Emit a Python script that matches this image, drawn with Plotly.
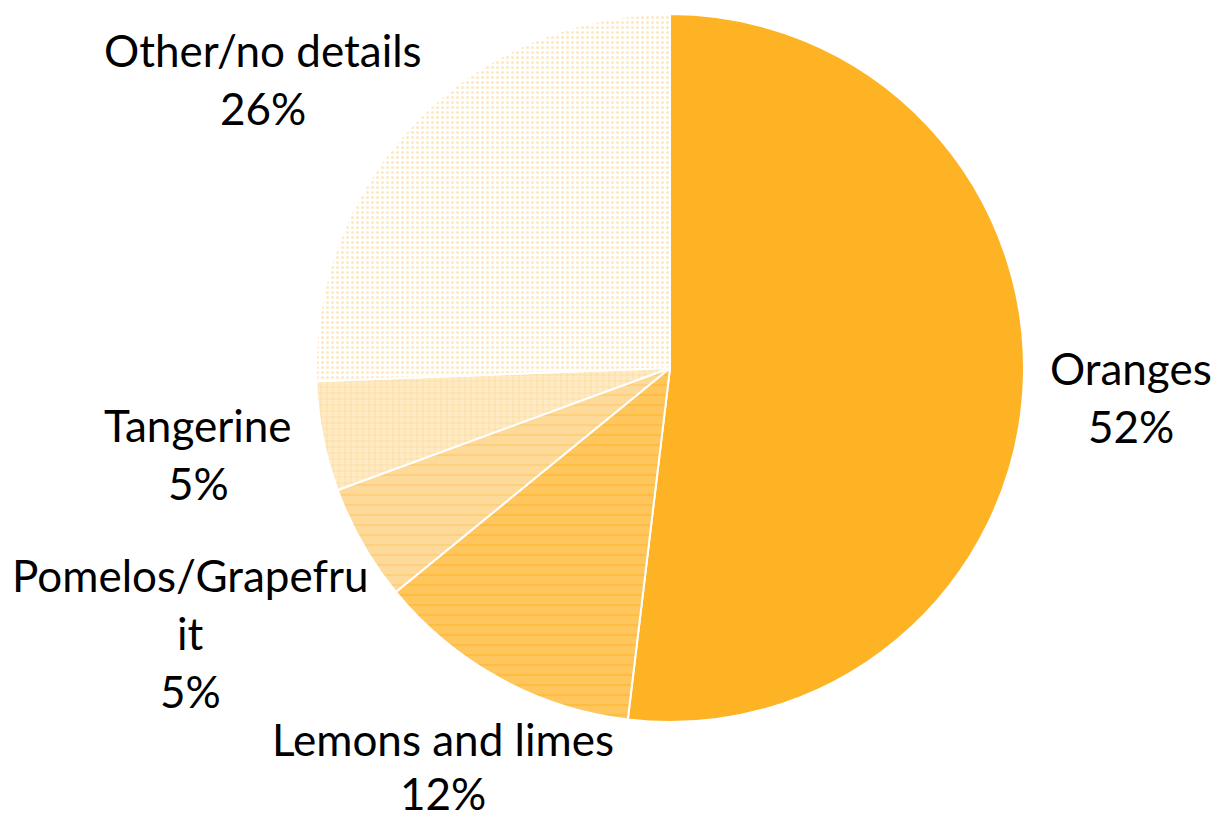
import plotly.graph_objects as go

labels = ["Oranges", "Lemons and limes", "Pomelos/Grapefruit", "Tangerine", "Other/no details"]
label_lines = [["Oranges"], ["Lemons and limes"], ["Pomelos/Grapefru", "it"], ["Tangerine"], ["Other/no details"]]
values = [51.9, 12.2, 5.3, 5.0, 25.6]

# styling
fill_bg = ["#FDB324", "#FEC65C", "#FEDA9A", "#FEEBC6", "#FFFFFF"]
fill_fg = ["#FDB324", "#FDB324", "#FDC04C", "#FDCB70", "#FDD283"]
shapes = ["", "-", "-", "+", "."]
# label anchor (center x px, first line center y px, line step px)
label_pos = [(1131, 368, 58), (443, 739, 54), (190, 575, 58), (198, 425, 58), (263, 50, 58)]
W, H = 1216, 821

fig = go.Figure(go.Pie(
    labels=labels, values=values, sort=False, direction="clockwise", rotation=0,
    textinfo="none", hoverinfo="label+percent",
    marker=dict(colors=fill_bg, line=dict(color="white", width=2),
                pattern=dict(shape=shapes, fgcolor=fill_fg, bgcolor=fill_bg,
                             size=[8, 10, 10, 6, 5], solidity=[0.2, 0.2, 0.15, 0.25, 0.3],
                             fillmode="overlay")),
    domain=dict(x=[(670 - 354) / W, (670 + 354) / W], y=[1 - (368 + 354) / H, 1 - (368 - 354) / H]),
    showlegend=False,
))

total = sum(values)
for lab, lines, v, (px, py, step) in zip(labels, label_lines, values, label_pos):
    all_lines = lines + [f"{round(v / total * 100)}%"]
    for i, t in enumerate(all_lines):
        fig.add_annotation(x=px / W, y=1 - (py + i * step) / H, xref="paper", yref="paper",
                           text=t, showarrow=False, xanchor="center", yanchor="middle",
                           font=dict(family="Lato", size=44, color="#000000"))

fig.update_layout(width=W, height=H, margin=dict(l=0, r=0, t=0, b=0),
                  paper_bgcolor="white", plot_bgcolor="white")
fig.write_html("out.html", config={"displayModeBar": False},
               post_script="document.body.style.margin='0';")
